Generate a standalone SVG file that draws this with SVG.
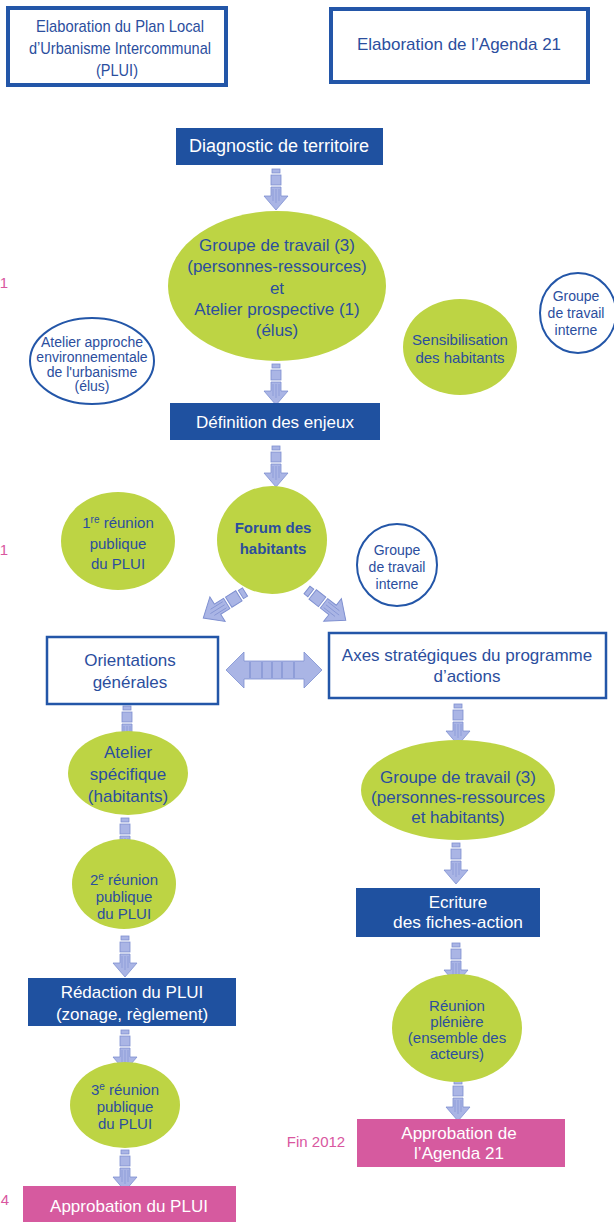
<svg xmlns="http://www.w3.org/2000/svg" width="614" height="1222" viewBox="0 0 614 1222">
<style>
text{font-family:"Liberation Sans",Arial,sans-serif;text-anchor:middle}
.t18{font-size:18px}
.t17{font-size:17px}
.t15{font-size:15px}
.t14{font-size:14px}
.bt{fill:#2b4e9e}
.wt{fill:#ffffff}
.pk{fill:#d9579f;font-size:15px}
.frame{fill:#ffffff;stroke:#2356a8;stroke-width:4}
.frame2{fill:#ffffff;stroke:#2356a8;stroke-width:2.5}
.solid{fill:#1f51a0}
.pink{fill:#d65a9f}
.green{fill:#bdd444}
.outl{fill:#ffffff;stroke:#2356a8;stroke-width:2}
.arr{fill:#aab5e5;stroke:#7e8fd0;stroke-width:0.8}
</style>
<defs>
<g id="down">
<rect class="arr" x="-4" y="0" width="8" height="4"/>
<rect class="arr" x="-5" y="6" width="10" height="10"/>
<path class="arr" d="M-5,18 h10 v9 h7 l-12,14 l-12,-14 h7 z"/>
<path d="M-3,20 v12 M0,20 v14 M3,20 v12" stroke="#7e8fd0" stroke-width="0.6" fill="none"/>
</g>
</defs>

<g id="pink-margin">
<text class="pk" x="4" y="288">1</text>
<text class="pk" x="4" y="555">1</text>
<text class="pk" x="5" y="1205">4</text>
<text class="pk" x="316" y="1147">Fin 2012</text>
</g>

<g id="connectors">
<use href="#down" x="276" y="169"/>
<use href="#down" x="276" y="364"/>
<use href="#down" x="276" y="446"/>
<use href="#down" x="127" y="706"/>
<use href="#down" x="125" y="818"/>
<use href="#down" x="125" y="936"/>
<use href="#down" x="125" y="1030"/>
<use href="#down" x="125" y="1150"/>
<use href="#down" x="458" y="704"/>
<use href="#down" x="456" y="843"/>
<use href="#down" x="456" y="943"/>
<use href="#down" x="458" y="1080"/>
<use href="#down" transform="translate(245,592) rotate(58) scale(1.2)"/>
<use href="#down" transform="translate(307,590) rotate(-52) scale(1.2)"/>
<g id="double-arrow">
<path class="arr" d="M226,670 l18,-18 v9 h60 v-9 l18,18 l-18,18 v-9 h-60 v9 z"/>
<path d="M250,662 v16 M262,662 v16 M272,662 v16 M282,662 v16 M294,662 v16" stroke="#7e8fd0" stroke-width="1.2" fill="none"/>
</g>
</g>

<g id="n-plui-title">
<rect class="frame" x="8" y="8" width="218" height="77"/>
<text class="t17 bt" x="120" y="32" textLength="168" lengthAdjust="spacingAndGlyphs">Elaboration du Plan Local</text>
<text class="t17 bt" x="120" y="54" textLength="182" lengthAdjust="spacingAndGlyphs">d’Urbanisme Intercommunal</text>
<text class="t17 bt" x="117" y="76" textLength="42" lengthAdjust="spacingAndGlyphs">(PLUI)</text>
</g>
<g id="n-a21-title">
<rect class="frame" x="331" y="9" width="257" height="73"/>
<text class="t17 bt" x="459" y="50">Elaboration de l’Agenda 21</text>
</g>

<g id="n-diagnostic">
<rect class="solid" x="176" y="128" width="207" height="37"/>
<text class="t18 wt" x="279" y="152">Diagnostic de territoire</text>
</g>

<g id="n-groupe1">
<ellipse class="green" cx="277" cy="286" rx="109" ry="75"/>
<text class="t17 bt" x="277" y="251">Groupe de travail (3)</text>
<text class="t17 bt" x="277" y="272">(personnes-ressources)</text>
<text class="t17 bt" x="277" y="294">et</text>
<text class="t17 bt" x="277" y="315">Atelier prospective (1)</text>
<text class="t17 bt" x="277" y="336">(élus)</text>
</g>

<g id="n-atelier-env">
<ellipse class="outl" cx="92" cy="361" rx="62" ry="43"/>
<text class="t14 bt" x="92" y="347">Atelier approche</text>
<text class="t14 bt" x="92" y="362">environnementale</text>
<text class="t14 bt" x="92" y="377">de l'urbanisme</text>
<text class="t14 bt" x="92" y="391">(élus)</text>
</g>

<g id="n-sensibilisation">
<ellipse class="green" cx="460" cy="347" rx="57" ry="48"/>
<text class="t15 bt" x="460" y="345">Sensibilisation</text>
<text class="t15 bt" x="460" y="363">des habitants</text>
</g>

<g id="n-gti1">
<ellipse class="outl" cx="578" cy="313" rx="38" ry="40"/>
<text class="t14 bt" x="576" y="301">Groupe</text>
<text class="t14 bt" x="576" y="318">de travail</text>
<text class="t14 bt" x="576" y="335">interne</text>
</g>

<g id="n-enjeux">
<rect class="solid" x="170" y="403" width="210" height="37"/>
<text class="t17 wt" x="275" y="428">Définition des enjeux</text>
</g>

<g id="n-reunion1">
<ellipse class="green" cx="118" cy="541" rx="57" ry="49"/>
<text class="t15 bt" x="118" y="528">1<tspan font-size="10" dy="-5">re</tspan><tspan dy="5"> réunion</tspan></text>
<text class="t15 bt" x="118" y="549">publique</text>
<text class="t15 bt" x="118" y="569">du PLUI</text>
</g>

<g id="n-forum">
<ellipse class="green" cx="272" cy="540" rx="55" ry="54"/>
<text class="t15 bt" x="273" y="533" font-weight="bold">Forum des</text>
<text class="t15 bt" x="273" y="554" font-weight="bold">habitants</text>
</g>

<g id="n-gti2">
<ellipse class="outl" cx="397" cy="565" rx="40" ry="41"/>
<text class="t14 bt" x="397" y="555">Groupe</text>
<text class="t14 bt" x="397" y="572">de travail</text>
<text class="t14 bt" x="397" y="589">interne</text>
</g>

<g id="n-orientations">
<rect class="frame2" x="47" y="637" width="171" height="67"/>
<text class="t17 bt" x="130" y="666">Orientations</text>
<text class="t17 bt" x="130" y="688">générales</text>
</g>

<g id="n-axes">
<rect class="frame2" x="329" y="633" width="277" height="65"/>
<text class="t17 bt" x="467" y="661" font-size="17.6">Axes stratégiques du programme</text>
<text class="t17 bt" x="467" y="682" font-size="17.6">d’actions</text>
</g>

<g id="n-atelier-spec">
<ellipse class="green" cx="128" cy="773" rx="60" ry="42"/>
<text class="t17 bt" x="128" y="758">Atelier</text>
<text class="t17 bt" x="128" y="780">spécifique</text>
<text class="t17 bt" x="128" y="802">(habitants)</text>
</g>

<g id="n-groupe2">
<ellipse class="green" cx="458" cy="790" rx="97" ry="50"/>
<text class="t17 bt" x="458" y="783">Groupe de travail (3)</text>
<text class="t17 bt" x="458" y="803">(personnes-ressources</text>
<text class="t17 bt" x="458" y="823">et habitants)</text>
</g>

<g id="n-reunion2">
<ellipse class="green" cx="124" cy="884" rx="52" ry="45"/>
<text class="t15 bt" x="124" y="885">2<tspan font-size="10" dy="-5">e</tspan><tspan dy="5"> réunion</tspan></text>
<text class="t15 bt" x="124" y="902">publique</text>
<text class="t15 bt" x="124" y="919">du PLUI</text>
</g>

<g id="n-ecriture">
<rect class="solid" x="356" y="888" width="184" height="49"/>
<text class="t17 wt" x="458" y="908">Ecriture</text>
<text class="t17 wt" x="458" y="928" textLength="130" lengthAdjust="spacingAndGlyphs">des fiches-action</text>
</g>

<g id="n-redaction">
<rect class="solid" x="28" y="978" width="208" height="48"/>
<text class="t17 wt" x="132" y="998">Rédaction du PLUI</text>
<text class="t17 wt" x="132" y="1020">(zonage, règlement)</text>
</g>

<g id="n-pleniere">
<ellipse class="green" cx="457" cy="1028" rx="65" ry="54"/>
<text class="t15 bt" x="457" y="1011">Réunion</text>
<text class="t15 bt" x="457" y="1027">plénière</text>
<text class="t15 bt" x="457" y="1043">(ensemble des</text>
<text class="t15 bt" x="457" y="1059">acteurs)</text>
</g>

<g id="n-reunion3">
<ellipse class="green" cx="125" cy="1105" rx="55" ry="43"/>
<text class="t15 bt" x="125" y="1095">3<tspan font-size="10" dy="-5">e</tspan><tspan dy="5"> réunion</tspan></text>
<text class="t15 bt" x="125" y="1112">publique</text>
<text class="t15 bt" x="125" y="1129">du PLUI</text>
</g>

<g id="n-approb-a21">
<rect class="pink" x="357" y="1119" width="208" height="48"/>
<text class="t17 wt" x="459" y="1139">Approbation de</text>
<text class="t17 wt" x="459" y="1159">l’Agenda 21</text>
</g>

<g id="n-approb-plui">
<rect class="pink" x="23" y="1186" width="213" height="36"/>
<text class="t17 wt" x="129" y="1212">Approbation du PLUI</text>
</g>
</svg>
